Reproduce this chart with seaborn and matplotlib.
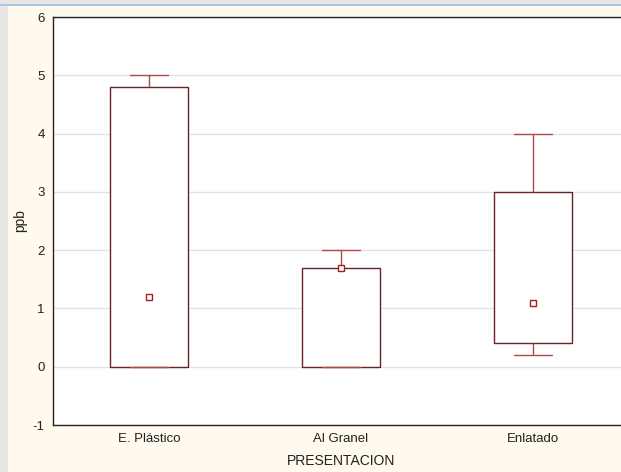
import numpy as np
import pandas as pd
import matplotlib
matplotlib.use("Agg")
import matplotlib.pyplot as plt
import seaborn as sns
from matplotlib.patches import Rectangle

# values: min, Q1, median, Q3, max per group
presentacion = ["E. Plástico", "Al Granel", "Enlatado"]
e_plastico = [0.0, 0.0, 1.2, 4.8, 5.0]
al_granel = [0.0, 0.0, 1.7, 1.7, 2.0]
enlatado = [0.2, 0.4, 1.1, 3.0, 4.0]
y_ticks = [-1, 0, 1, 2, 3, 4, 5, 6]

df = pd.DataFrame({
    "PRESENTACION": np.repeat(presentacion, 5),
    "ppb": e_plastico + al_granel + enlatado,
})

sns.set_style("white")
plt.rcParams["font.family"] = ["Liberation Sans", "DejaVu Sans"]
plt.rcParams["font.size"] = 9.5
plt.rcParams["axes.unicode_minus"] = False

fig = plt.figure(figsize=(6.21, 4.72), dpi=100, facecolor="#fff9ee")
# window chrome of the original screenshot
fig.patches.append(Rectangle((0, 0), 8 / 621, 1, transform=fig.transFigure,
                             facecolor="#e6e6e6", edgecolor="none", zorder=0))
fig.patches.append(Rectangle((0, 1 - 4 / 472), 1, 4 / 472, transform=fig.transFigure,
                             facecolor="#e6e6e6", edgecolor="none", zorder=0))
fig.patches.append(Rectangle((0, 1 - 6 / 472), 1, 2 / 472, transform=fig.transFigure,
                             facecolor="#a9c6e4", edgecolor="none", zorder=0))

ax = fig.add_axes([53 / 621, 47 / 472, 576 / 621, 408 / 472])
ax.set_facecolor("white")

box_edge = "#6a2222"
whisk = "#b04a4a"
sns.boxplot(data=df, x="PRESENTACION", y="ppb", order=presentacion,
            whis=(0, 100), width=0.405, color="white", linecolor=box_edge,
            linewidth=1.0, showfliers=False, ax=ax,
            medianprops={"visible": False},
            whiskerprops={"color": whisk, "linewidth": 1.0},
            capprops={"color": whisk, "linewidth": 1.0})

sns.pointplot(data=df, x="PRESENTACION", y="ppb", order=presentacion,
              estimator="median", errorbar=None, linestyle="none",
              marker="s", markersize=5, color="#a02020",
              markerfacecolor="white", markeredgewidth=1.0, ax=ax)
for c in ax.collections + ax.lines[-1:]:
    c.set_zorder(5)

ax.set_xlim(-0.5, 2.5)
ax.set_ylim(-1, 6)
ax.set_yticks(y_ticks)
ax.yaxis.grid(True, color="#e2e2e2", linewidth=1.0)
ax.set_axisbelow(True)
ax.tick_params(axis="both", length=0, pad=6, labelsize=9.5, colors="#222222")
for s in ax.spines.values():
    s.set_color("#222222")
    s.set_linewidth(1.0)
ax.set_xlabel("PRESENTACION", fontsize=10, color="#222222", labelpad=6)
ax.set_ylabel("ppb", fontsize=10, color="#222222")
ax.yaxis.set_label_coords(-26 / 576, 0.5)

fig.savefig("out.png", dpi=100, facecolor=fig.get_facecolor())
